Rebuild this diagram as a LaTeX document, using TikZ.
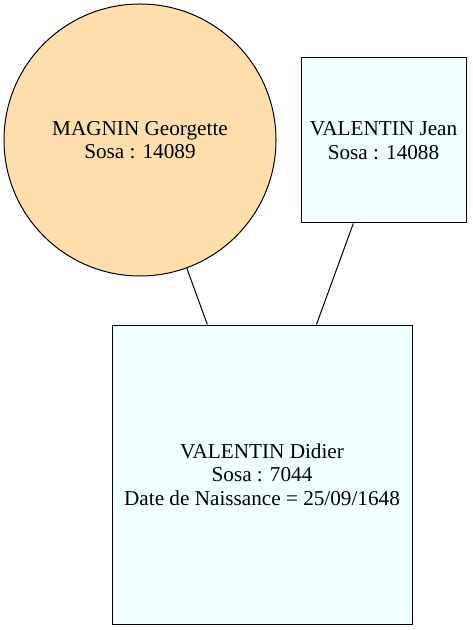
\documentclass[tikz,border=0pt]{standalone}
\usepackage{fontspec}
\setmainfont{Liberation Serif}
\newfontfamily\nodefont{Liberation Serif}
\usepackage{tikz}
\usetikzlibrary{positioning}
\definecolor{peach}{HTML}{FFDEAD}
\definecolor{azurebox}{HTML}{F0FFFF}

\begin{document}
\begin{tikzpicture}[
  x=0.75pt, y=-0.75pt,
  person/.style={draw=black, line width=0.75pt, inner sep=0pt, align=center,
    font=\nodefont\fontsize{15.9pt}{17.6pt}\selectfont},
  femme/.style={person, circle, fill=peach, minimum size=272*0.75pt},
  homme/.style={person, rectangle, fill=azurebox},
  link/.style={draw=black, line width=0.75pt}
]
\useasboundingbox (0,0) rectangle (472,630);

% Parents
\node[femme] (georgette) at (140,140) {MAGNIN Georgette\\Sosa : 14089};
\node[homme, minimum width=165*0.75pt, minimum height=165*0.75pt] (jean) at (383.5,140.5) {VALENTIN Jean\\Sosa : 14088};

% Child
\node[homme, minimum width=300*0.75pt, minimum height=299*0.75pt] (didier) at (262,474.5)
  {VALENTIN Didier\\Sosa : 7044\\Date de Naissance = 25/09/1648};

% Links
\draw[link] (georgette) -- (didier);
\draw[link] (jean) -- (didier);

\end{tikzpicture}
\end{document}
